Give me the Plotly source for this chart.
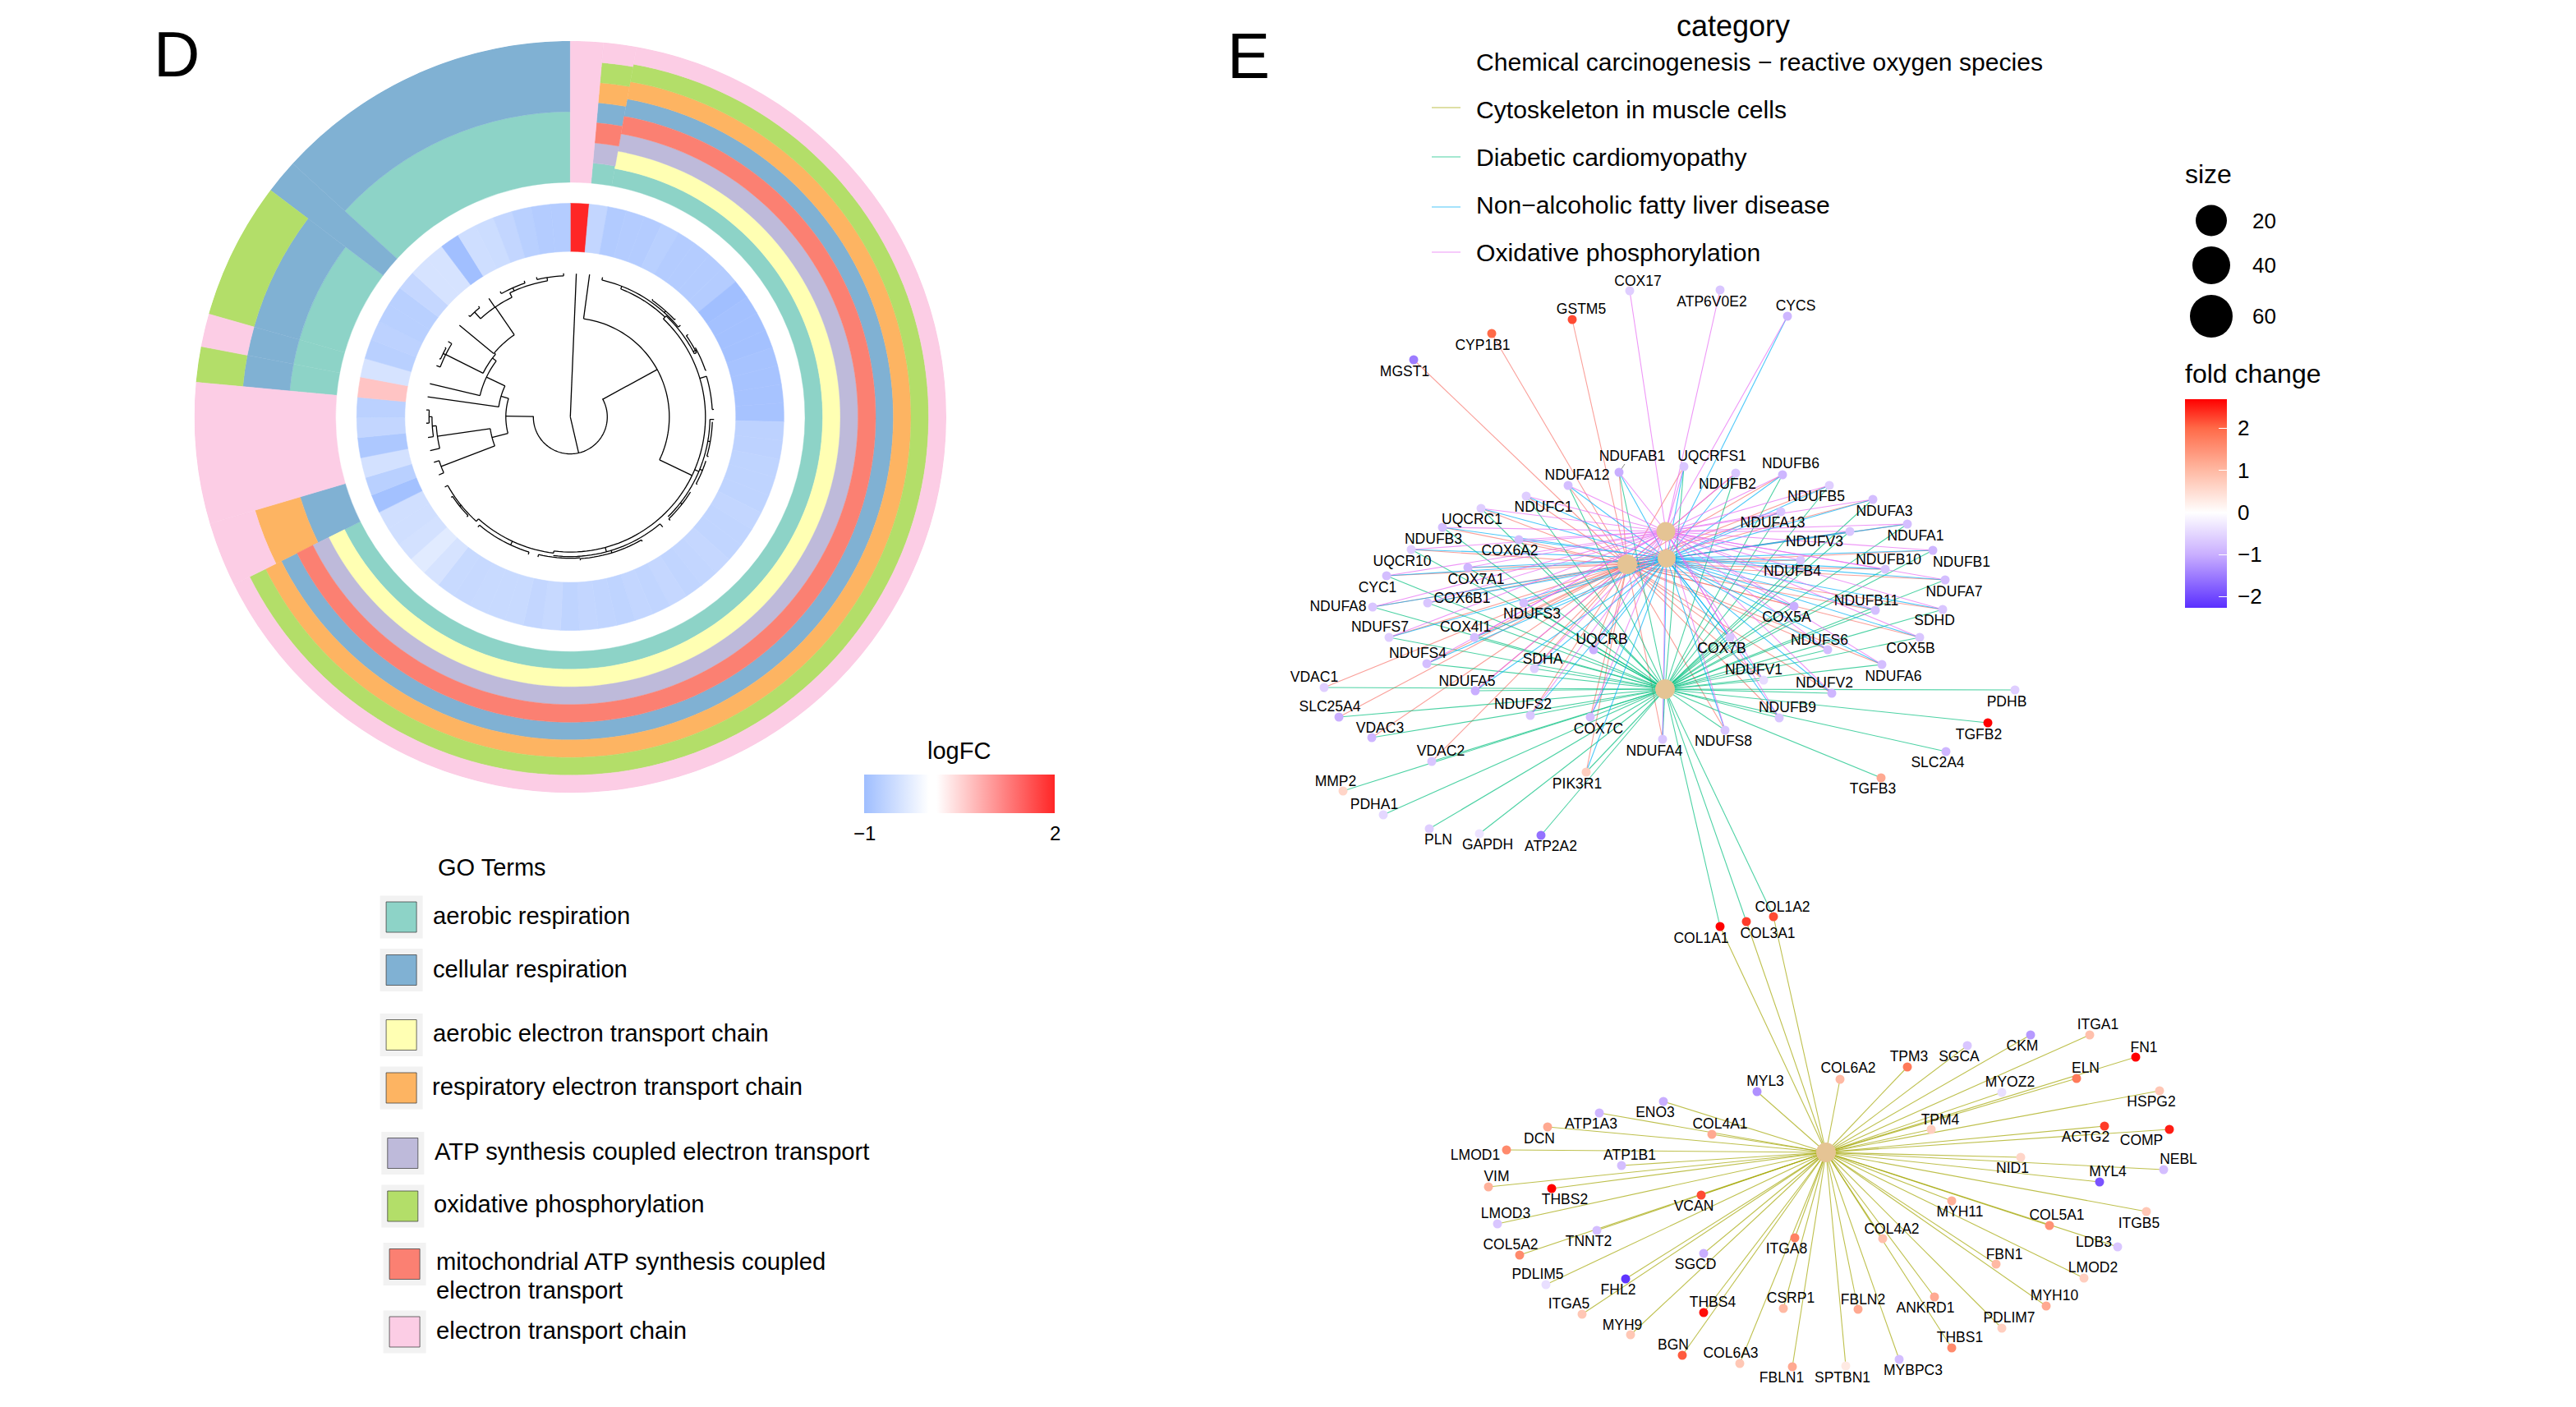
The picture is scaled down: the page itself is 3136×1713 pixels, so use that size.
import numpy as np
import plotly.graph_objects as go

W, H = 3136, 1713
FONT = "Liberation Sans"

# ---------- Panel D data ----------
go_terms = ["aerobic respiration", "cellular respiration", "aerobic electron transport chain",
            "respiratory electron transport chain", "ATP synthesis coupled electron transport",
            "oxidative phosphorylation", "mitochondrial ATP synthesis coupled",
            "electron transport chain"]
go_colors = ["#8DD3C7", "#80B1D3", "#FFFFB3", "#FDB462", "#BEBADA", "#B3DE69", "#FB8072", "#FCCDE5"]

leaf_knots = [0, 48, 50, 54, 55, 56, 60, 61, 70]
angle_knots = [0, 243.5, 253.5, 275.3, 280.8, 285.9, 307.1, 312.4, 360]

# leaf range, then GO term indices from the inner to the outer edge of the track
sec_start = [0, 1, 2, 48, 50, 54, 55, 56, 60, 61]
sec_end = [1, 2, 48, 50, 54, 55, 56, 60, 61, 70]
sec_terms = [[7], [0, 4, 6, 1, 3, 5, 7], [0, 2, 4, 6, 1, 3, 5, 7], [1, 3, 7], [7],
             [0, 1, 5], [0, 1, 7], [0, 1, 5], [1], [0, 1]]

logfc = [2.0, -0.62, -0.8, -0.78, -0.78, -0.72, -0.78, -0.78, -0.78, -0.78,
         -0.98, -0.95, -0.95, -0.95, -0.92, -0.92, -0.92, -0.92, -0.68, -0.68,
         -0.66, -0.66, -0.66, -0.62, -0.64, -0.64, -0.6, -0.62, -0.64, -0.6,
         -0.64, -0.62, -0.66, -0.64, -0.62, -0.66, -0.58, -0.62, -0.56, -0.56,
         -0.56, -0.58, -0.56, -0.42, -0.3, -0.45, -0.48, -0.48, -0.96, -0.72,
         -0.45, -0.85, -0.62, -0.7, 0.65, -0.42, -0.72, -0.68, -0.72, -0.72,
         -0.6, -0.42, -0.42, -0.98, -0.5, -0.52, -0.62, -0.72, -0.78, -0.78]

# dendrogram: arcs (radius, from angle, to angle), radial edges (from radius, to radius, angle)
tree_arcs = [(45, 60.6, 271), (120.5, 7.8, 115.7), (164.5, 43.5, 187), (167.5, 21.5, 43.5), (171, 13, 24),
             (171, 24, 50.2), (173.5, 35, 47), (169.5, 43.5, 63), (172.4, 55, 63), (174, 61, 71),
             (173, 73.4, 87), (170, 91, 135.6), (173, 92, 106), (173.5, 108, 118), (172.5, 122, 136),
             (170, 140, 187), (173, 150, 176), (172, 176, 193), (167, 187, 222),
             (172, 197, 220), (171, 222, 240.8), (173, 226, 236),
             (78.5, 255.3, 286.7), (98.5, 249, 261.7), (168.4, 246.2, 251.6), (163.5, 256.5, 266.2),
             (168.4, 261.8, 270.1), (172, 267.5, 272.8), (88, 278, 295.4), (113, 283.3, 307.1),
             (118.8, 296.6, 310), (121, 310, 325.7), (169.6, 291, 301.7), (173, 294, 299),
             (162, 317.6, 334), (172.8, 315, 320.3), (168, 334, 350.5), (172, 330.8, 341.3),
             (172, 346.4, 357.3)]
tree_radials = [(0, 174.5, 2.4), (0, 45, 167), (45, 120.5, 61.4), (120.5, 175, 7.7), (120.5, 164.5, 115.7),
                (164.5, 169.5, 43.5), (167.5, 171, 21.5), (171, 174.5, 13), (171, 174.5, 50.2),
                (171, 173.5, 42), (173.5, 175, 35), (173.5, 175, 47), (169.5, 172.4, 63), (172.4, 175, 55),
                (169.5, 174, 62), (174, 175, 71), (164.5, 173, 73.4), (173, 175, 87),
                (164.5, 170, 113), (170, 175, 91), (170, 173, 100), (173, 175, 106), (170, 173.5, 112),
                (173.5, 175, 118), (170, 172.5, 128), (172.5, 175, 136), (164.5, 170, 165),
                (170, 175, 140), (170, 173, 163), (173, 175, 150), (173, 175, 176),
                (164.5, 167, 187), (167, 172, 205), (172, 175, 197), (172, 175, 220), (167, 171, 222),
                (171, 175, 240.8), (171, 173, 231), (173, 175, 226), (173, 175, 236), (172, 175, 193),
                (45, 78.5, 270.7), (78.5, 98.5, 255.3), (98.5, 168.4, 249), (168.4, 175, 246.2), (168.4, 175, 251.6),
                (98.5, 163.5, 261.7), (163.5, 175.5, 256.5), (163.5, 168.4, 266.2), (168.4, 175, 261.8),
                (168.4, 172, 270.1), (172, 175.5, 272.8), (172, 175.5, 267.5), (78.5, 88, 286.7),
                (88, 175.4, 278), (88, 113, 295.4), (113, 175.7, 283.3), (113, 118.8, 307.1),
                (118.8, 169.6, 296.6), (169.6, 174.5, 291), (169.6, 173, 296.5), (173, 174.5, 294), (173, 174.5, 299),
                (169.6, 174.8, 301.7), (118.8, 121, 310), (121, 175.2, 309.6), (121, 162, 325.7), (162, 175, 325.5),
                (162, 172.8, 317.6), (172.8, 175, 315), (172.8, 175, 320.3), (162, 168, 334), (168, 172, 336),
                (172, 175, 330.8), (172, 175, 341.3), (168, 172, 350.5), (172, 175, 346.4), (172, 175, 357.3)]

ring_r = [201.5, 260, 285.7, 457.7]  # heatmap inner/outer, GO tracks inner/outer

# ---------- Panel E data ----------
top_genes = ["MGST1", "CYP1B1", "GSTM5", "COX17", "ATP6V0E2", "CYCS", "NDUFAB1", "UQCRFS1", "NDUFA12", "NDUFC1",
             "UQCRC1", "NDUFB3", "COX6A2", "UQCR10", "COX7A1", "CYC1", "COX6B1", "NDUFS3", "NDUFA8", "NDUFS7",
             "COX4I1", "NDUFS4", "SDHA", "UQCRB", "COX7B", "NDUFS6", "COX5A", "NDUFB11", "NDUFA7", "SDHD",
             "COX5B", "NDUFA6", "NDUFV1", "NDUFV2", "VDAC1", "NDUFA5", "SLC25A4", "NDUFS2", "COX7C", "NDUFB9",
             "PDHB", "TGFB2", "VDAC3", "NDUFS8", "NDUFA4", "SLC2A4", "VDAC2", "PIK3R1", "TGFB3", "MMP2",
             "PDHA1", "PLN", "GAPDH", "ATP2A2", "COL1A1", "COL3A1", "COL1A2", "NDUFB2", "NDUFB6", "NDUFB5",
             "NDUFA3", "NDUFA13", "NDUFA1", "NDUFV3", "NDUFB1", "NDUFB4", "NDUFB10"]
top_x = [1721, 1816, 1914, 1984, 2094, 2176, 1971, 2050, 1909, 1858,
         1803, 1756, 1849, 1718, 1787, 1688, 1738, 1855, 1671, 1691,
         1795, 1737, 1868, 1940, 2106, 2225, 2184, 2283, 2368, 2365,
         2337, 2291, 2147, 2230, 1612, 1796, 1630, 1863, 1936, 2166,
         2453, 2420, 1670, 2100, 2024, 2369, 1743, 1931, 2290, 1635,
         1684, 1740, 1801, 1876, 2094, 2126, 2159, 2113, 2170, 2227,
         2280, 2168, 2322, 2252, 2353, 2192, 2295]
top_y = [438, 406, 389, 354, 353, 385, 575, 568, 591, 604,
         619, 642, 657, 669, 691, 701, 734, 734, 739, 776,
         776, 808, 814, 791, 776, 791, 738, 743, 706, 742,
         776, 809, 828, 844, 837, 841, 873, 871, 873, 874,
         840, 880, 898, 889, 900, 915, 927, 940, 947, 963,
         992, 1009, 1015, 1017, 1128, 1122, 1116, 576, 578, 591,
         608, 623, 638, 647, 670, 682, 693]
top_lx = [1710, 1805, 1925, 1994, 2084, 2186, 1987, 2084, 1920, 1879,
          1792, 1745, 1838, 1707, 1797, 1677, 1780, 1865, 1629, 1680,
          1784, 1726, 1878, 1950, 2096, 2215, 2175, 2272, 2379, 2355,
          2326, 2305, 2135, 2221, 1600, 1786, 1619, 1854, 1946, 2176,
          2443, 2409, 1680, 2098, 2014, 2359, 1754, 1920, 2280, 1626,
          1673, 1751, 1811, 1888, 2071, 2152, 2170, 2103, 2180, 2211,
          2294, 2158, 2332, 2209, 2388, 2182, 2299]
top_ly = [454, 422, 378, 344, 369, 374, 557, 557, 580, 619,
          634, 658, 672, 685, 707, 717, 730, 749, 740, 765,
          765, 797, 804, 780, 791, 781, 753, 733, 722, 757,
          791, 825, 817, 833, 826, 831, 862, 859, 889, 863,
          856, 896, 888, 904, 916, 930, 916, 956, 962, 953,
          981, 1024, 1030, 1032, 1144, 1138, 1106, 591, 566, 606,
          624, 638, 654, 661, 686, 697, 683]
top_fc = [-1.5, 2.0, 2.2, -0.6, -0.7, -0.9, -1.0, -0.7, -0.8, -0.6,
          -0.6, -0.8, -0.8, -0.6, -0.9, -0.8, -0.7, -0.8, -0.7, -0.6,
          -0.8, -0.8, -0.6, -1.0, -0.7, -0.8, -1.0, -0.8, -0.8, -0.7,
          -0.7, -0.8, -0.45, -0.9, -0.6, -1.0, -1.0, -0.7, -0.8, -0.7,
          -0.6, 2.7, -0.9, -0.7, -0.7, -0.9, -0.7, 0.7, 1.2, 0.6,
          -0.5, -0.6, -0.35, -1.6, 2.69, 2.3, 2.2, -0.7, -0.9, -0.6,
          -0.8, -0.7, -0.8, -0.7, -0.9, -0.7, -0.7]

low_genes = ["ITGA1", "FN1", "CKM", "SGCA", "TPM3", "COL6A2", "MYL3", "ELN", "MYOZ2", "HSPG2",
             "ENO3", "ATP1A3", "DCN", "COL4A1", "TPM4", "ACTG2", "COMP", "LMOD1", "ATP1B1", "NID1",
             "NEBL", "MYL4", "VIM", "THBS2", "VCAN", "MYH11", "ITGB5", "LMOD3", "COL5A1", "TNNT2",
             "COL4A2", "ITGA8", "LDB3", "COL5A2", "SGCD", "FBN1", "LMOD2", "FHL2", "PDLIM5", "ANKRD1",
             "MYH10", "CSRP1", "FBLN2", "THBS4", "ITGA5", "PDLIM7", "MYH9", "THBS1", "BGN", "COL6A3",
             "MYBPC3", "FBLN1", "SPTBN1"]
low_x = [2544, 2600, 2472, 2395, 2322, 2240, 2139, 2528, 2437, 2629,
         2025, 1947, 1884, 2084, 2351, 2562, 2641, 1834, 1974, 2460,
         2634, 2556, 1812, 1889, 2071, 2376, 2613, 1823, 2495, 1944,
         2292, 2185, 2578, 1850, 2074, 2430, 2537, 1979, 1882, 2355,
         2491, 2171, 2262, 2074, 1926, 2437, 1985, 2376, 2048, 2118,
         2312, 2182, 2247]
low_y = [1260, 1287, 1260, 1273, 1299, 1314, 1329, 1313, 1330, 1328,
         1341, 1355, 1372, 1381, 1375, 1371, 1375, 1400, 1419, 1409,
         1424, 1439, 1445, 1447, 1455, 1462, 1475, 1490, 1492, 1498,
         1508, 1507, 1518, 1528, 1526, 1539, 1556, 1557, 1564, 1579,
         1590, 1593, 1594, 1598, 1600, 1617, 1625, 1641, 1650, 1660,
         1655, 1664, 1663]
low_lx = [2554, 2610, 2462, 2385, 2324, 2250, 2149, 2539, 2447, 2619,
          2015, 1937, 1874, 2094, 2362, 2539, 2607, 1796, 1984, 2450,
          2652, 2566, 1822, 1905, 2062, 2386, 2604, 1833, 2504, 1934,
          2303, 2175, 2549, 1839, 2064, 2440, 2548, 1970, 1872, 2344,
          2501, 2180, 2268, 2085, 1910, 2446, 1975, 2386, 2037, 2107,
          2329, 2169, 2243]
low_ly = [1249, 1277, 1275, 1288, 1288, 1302, 1318, 1302, 1319, 1343,
          1356, 1370, 1388, 1370, 1365, 1386, 1390, 1408, 1408, 1424,
          1413, 1428, 1434, 1462, 1470, 1477, 1491, 1479, 1481, 1513,
          1498, 1522, 1514, 1517, 1541, 1529, 1545, 1572, 1553, 1594,
          1579, 1582, 1584, 1587, 1589, 1606, 1615, 1630, 1639, 1649,
          1670, 1679, 1679]
low_fc = [0.9, 2.69, -1.2, -0.7, 1.8, 1.0, -1.3, 1.8, -0.4, 0.8,
          -1.0, -0.9, 1.2, 1.2, 0.7, 2.3, 2.5, 1.6, -0.8, 0.6,
          -0.8, -1.9, 1.1, 2.69, 2.2, 1.1, 0.8, -0.7, 1.5, -0.8,
          0.9, 1.7, -0.7, 1.6, -1.0, 1.0, 0.7, -2.2, -0.4, 1.2,
          1.2, 1.0, 1.2, 2.6, 0.8, 0.7, 0.8, 1.6, 2.1, 0.8,
          -0.8, 1.2, 0.3]

hub_names = ["Chemical carcinogenesis \u2212 reactive oxygen species", "Cytoskeleton in muscle cells",
             "Diabetic cardiomyopathy", "Non\u2212alcoholic fatty liver disease", "Oxidative phosphorylation"]
hub_colors = ["#F8766D", "#A3A500", "#00BF7D", "#00B0F6", "#E76BF3"]
hub_x = [1981, 2223, 2027, 2029, 2028]
hub_y = [687, 1403, 839, 680, 647]
hub_size = [24, 24, 24, 22, 23]

only_chem = ["MGST1", "CYP1B1", "GSTM5"]
only_oxphos = ["COX17", "ATP6V0E2"]
chem_diab = ["VDAC1", "VDAC2", "VDAC3", "SLC25A4"]
only_diab = ["PDHB", "TGFB2", "SLC2A4", "TGFB3", "MMP2", "PDHA1", "PLN", "GAPDH", "ATP2A2"]
collagens = ["COL1A1", "COL3A1", "COL1A2"]

size_levels = [20, 40, 60]
size_px = [38, 46, 52]

fc_ticks = [-2, -1, 0, 1, 2]
fc_min, fc_max = -2.26, 2.69
logfc_min, logfc_max = -1, 2

# ---------- derived ----------
all_genes = top_genes + low_genes
pos = dict(zip(all_genes, zip(top_x + low_x, top_y + low_y)))
special = set(only_chem + only_oxphos + chem_diab + only_diab + collagens + ["CYCS", "PIK3R1"])
mito = [g for g in top_genes if g not in special]
members = [
    only_chem + chem_diab + ["PIK3R1"] + mito,
    low_genes + collagens,
    mito + chem_diab + only_diab + collagens + ["PIK3R1"],
    mito + ["CYCS", "PIK3R1"],
    mito + only_oxphos + ["CYCS"],
]

def leaf_angle(i):
    return np.interp(i, leaf_knots, angle_knots)

def hex_rgba(h, a):
    return f"rgba({int(h[1:3],16)},{int(h[3:5],16)},{int(h[5:7],16)},{a})"

fig = go.Figure()

# GO tracks
track_in, track_out = ring_r[2], ring_r[3]
for ti, col in enumerate(go_colors):
    th, wd, bs, rr = [], [], [], []
    for s, e, terms in zip(sec_start, sec_end, sec_terms):
        a0, a1 = leaf_angle(s), leaf_angle(e)
        step = (track_out - track_in) / len(terms)
        for k, t in enumerate(terms):
            if t == ti:
                th.append((a0 + a1) / 2); wd.append(a1 - a0)
                bs.append(track_in + k * step); rr.append(step)
    fig.add_trace(go.Barpolar(theta=th, width=wd, base=bs, r=rr, subplot="polar", showlegend=False,
                              marker=dict(color=col, line=dict(color=col, width=0.4))))

# heat ring
edges = leaf_angle(np.arange(len(logfc) + 1))
heat_scale = [[0, "#9FBEFF"], [0.34, "#FFFFFF"], [0.38, "#FFFFFF"], [1, "#FF2626"]]
fig.add_trace(go.Barpolar(
    theta=(edges[:-1] + edges[1:]) / 2, width=np.diff(edges),
    base=[ring_r[0]] * len(logfc), r=[ring_r[1] - ring_r[0]] * len(logfc), subplot="polar", showlegend=False,
    marker=dict(color=logfc, cmin=logfc_min, cmax=logfc_max, colorscale=heat_scale,
                line=dict(color=logfc, cmin=logfc_min, cmax=logfc_max, colorscale=heat_scale, width=0.6),
                colorbar=dict(orientation="h", x=1052 / W, xanchor="left", y=1 - 943 / H, yanchor="top",
                              thickness=46.5, len=232, lenmode="pixels", xpad=0, ypad=0, outlinewidth=0,
                              tickvals=[logfc_min, logfc_max], ticks="", showticklabels=False))))

# dendrogram
tr, tt = [], []
for r, a0, a1 in tree_arcs:
    ang = np.linspace(a0, a1, max(2, int((a1 - a0) / 2) + 2))
    tr += [r] * len(ang) + [None]
    tt += list(ang) + [None]
for r0, r1, a in tree_radials:
    tr += [r0, r1, None]
    tt += [a, a, None]
fig.add_trace(go.Scatterpolar(r=tr, theta=tt, mode="lines", subplot="polar", showlegend=False,
                              line=dict(color="black", width=1.3)))

# network edges
for i, col in enumerate(hub_colors):
    ex, ey = [], []
    for g in members[i]:
        ex += [hub_x[i], pos[g][0], None]
        ey += [hub_y[i], pos[g][1], None]
    fig.add_trace(go.Scatter(x=ex, y=ey, mode="lines", showlegend=False,
                             line=dict(color=hex_rgba(col, 0.7), width=1.1)))

# repel segment of NDUFAB1
fig.add_trace(go.Scatter(x=[pos["NDUFAB1"][0], top_lx[top_genes.index("NDUFAB1")] - 9],
                         y=[pos["NDUFAB1"][1], top_ly[top_genes.index("NDUFAB1")] + 8],
                         mode="lines", showlegend=False, line=dict(color="#666666", width=0.8)))

# hubs
fig.add_trace(go.Scatter(x=hub_x, y=hub_y, mode="markers", showlegend=False,
                         marker=dict(color="#E5C494", size=hub_size, opacity=1, line=dict(width=0))))

# gene nodes
span = fc_max - fc_min
def nf(v):
    return (v - fc_min) / span
fc_scale = [[0, "#5A2FFF"], [nf(-1), "#C9AEFF"], [nf(0), "#FFFFFF"], [nf(1), "#FFB9A3"],
            [nf(2), "#FF6A48"], [1, "#FF0000"]]
fig.add_trace(go.Scatter(
    x=top_x + low_x, y=top_y + low_y, mode="markers", showlegend=False,
    marker=dict(size=11, color=top_fc + low_fc, cmin=fc_min, cmax=fc_max, colorscale=fc_scale, opacity=1,
                line=dict(width=0),
                colorbar=dict(x=2660 / W, xanchor="left", y=1 - 486 / H, yanchor="top", thickness=51,
                              len=254, lenmode="pixels", xpad=0, ypad=0, outlinewidth=0, tickvals=fc_ticks,
                              showticklabels=False, ticks="inside", ticklen=10,
                              tickcolor="white", tickwidth=1))))

# gene labels
fig.add_trace(go.Scatter(x=top_lx + low_lx, y=top_ly + low_ly, mode="text", text=all_genes, showlegend=False,
                         textposition="middle center", textfont=dict(family=FONT, size=17.5, color="black")))

# category legend keys
for col, ky in zip(hub_colors[1:], [131, 191, 252, 307]):
    fig.add_trace(go.Scatter(x=[1743, 1778], y=[ky, ky], mode="lines", showlegend=False,
                             line=dict(color=hex_rgba(col, 0.7), width=1.2)))

# size legend
fig.add_trace(go.Scatter(x=[2692] * 3, y=[268.5, 323, 385], mode="markers", showlegend=False,
                         marker=dict(color="black", size=size_px, opacity=1, line=dict(width=0))))

# GO legend keys
key_x = [488.6, 488.6, 488.6, 488.6, 490.3, 490.3, 492.6, 492.6]
key_y = [1116.5, 1181, 1260, 1324.5, 1404, 1468.5, 1539, 1621.5]
fig.add_trace(go.Scatter(x=key_x, y=key_y, mode="markers", showlegend=False,
                         marker=dict(symbol="square", size=52, color="#F2F2F2", opacity=1, line=dict(width=0))))
fig.add_trace(go.Scatter(x=key_x, y=key_y, mode="markers", showlegend=False,
                         marker=dict(symbol="square", size=37, color=go_colors, opacity=1,
                                     line=dict(width=1, color="rgba(60,60,60,0.75)"))))

def note(txt, x, y, size, anchor="left"):
    return dict(text=txt, x=x, y=y, xref="x", yref="y", showarrow=False, xanchor=anchor, yanchor="middle",
                font=dict(family=FONT, size=size, color="black"), align="left")

ann = [note("D", 185, 66, 78), note("E", 1492, 68, 78),
       note("category", 2110, 31, 36, "center"), note("size", 2658, 212, 32), note("fold change", 2658, 455, 32),
       note("logFC", 1167, 914, 29, "center"), note("GO Terms", 531, 1056, 29)]
for txt, ky in zip(hub_names, [75, 133, 191.5, 249, 307]):
    ann.append(note(txt, 1795, ky, 30.1))
for lv, ky in zip(size_levels, [268.5, 323, 385]):
    ann.append(note(str(lv), 2756, ky, 26, "center"))
text_x = [525, 525, 524.5, 524, 527, 526, 529, 529]
text_y = [1115, 1180, 1258, 1323, 1402, 1466, 1536, 1620]
for t, tx, ty in zip(go_terms, text_x, text_y):
    ann.append(note(t, tx, ty, 29.2))
ann.append(note("electron transport", 529, 1571, 29.2))

# colour bar labels placed with the bars' own scales
for v, s in zip(fc_ticks, ["\u22122", "\u22121", "0", "1", "2"]):
    ann.append(note(s, 2722, 623.8 - 51.3 * v, 26))
for v, s in zip([logfc_min, logfc_max], ["\u22121", "2"]):
    ann.append(note(s, 1052 + (v - logfc_min) / (logfc_max - logfc_min) * 232, 1014, 24, "center"))

cx, cy, R = 694.3, 507.6, ring_r[3]
fig.update_layout(
    width=W, height=H, margin=dict(l=0, r=0, t=0, b=0), paper_bgcolor="white", plot_bgcolor="white",
    showlegend=False, font=dict(family=FONT),
    xaxis=dict(range=[0, W], domain=[0, 1], visible=False, fixedrange=True),
    yaxis=dict(range=[H, 0], domain=[0, 1], visible=False, fixedrange=True),
    polar=dict(domain=dict(x=[(cx - R) / W, (cx + R) / W], y=[1 - (cy + R) / H, 1 - (cy - R) / H]),
               bgcolor="rgba(0,0,0,0)", barmode="overlay",
               radialaxis=dict(range=[0, R], visible=False),
               angularaxis=dict(direction="clockwise", rotation=90, visible=False)),
    annotations=ann,
)
fig.write_html("out.html", config=dict(displayModeBar=False),
               post_script="document.body.style.margin='0';document.documentElement.style.overflow='hidden';")
